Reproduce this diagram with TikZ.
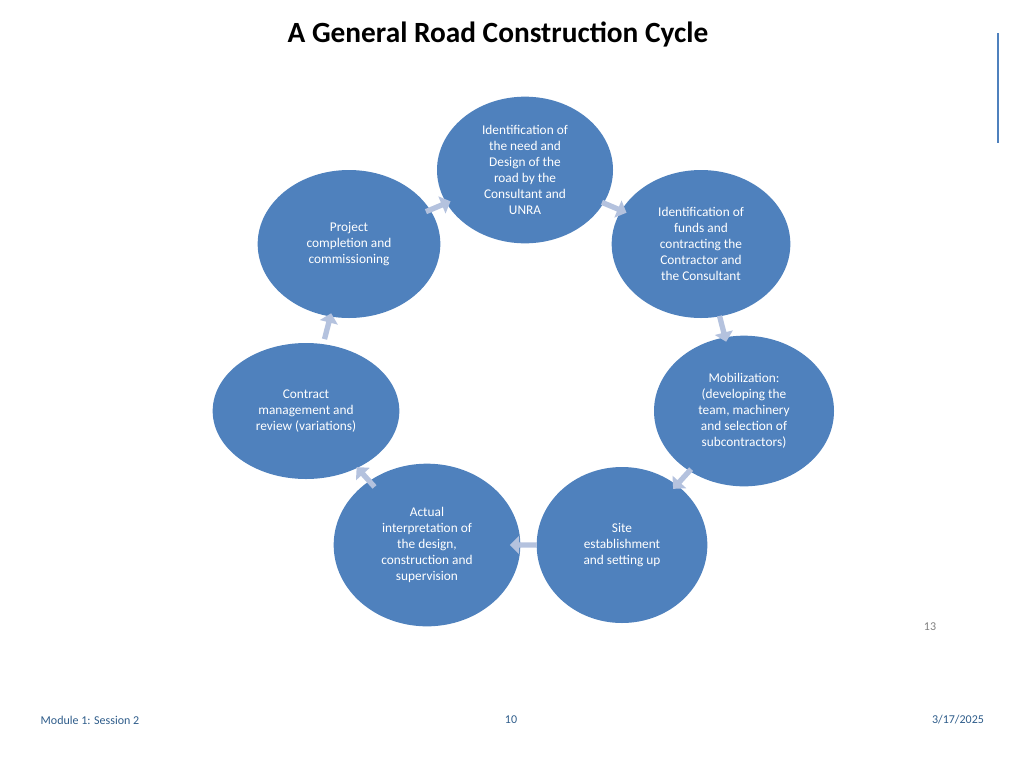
\documentclass[tikz,border=0pt]{standalone}
\usepackage{fontspec}
\setmainfont{Carlito}
\usetikzlibrary{shapes.geometric,shapes.arrows,calc}
\definecolor{cblue}{HTML}{4F81BD}
\definecolor{carrow}{HTML}{B4C2DE}
\definecolor{foot}{HTML}{2E5C8A}
\tikzset{
 circ/.style={ellipse,fill=cblue,text=white,align=center,font=\fontsize{10}{12}\selectfont,inner sep=0pt},
 arr/.style={single arrow,fill=carrow,minimum height=20pt,minimum width=14pt,single arrow head extend=3pt,inner sep=1pt},
 foottext/.style={font=\fontsize{9}{11}\selectfont,text=foot}
}
\begin{document}
\begin{tikzpicture}[x=0.75pt,y=-0.75pt]
\useasboundingbox (0,0) rectangle (1024,768);
\node[font=\fontsize{22}{26}\selectfont\bfseries] (title) at (498,34) {A General Road Construction Cycle};
\draw[cblue,line width=1pt] (998,33) coordinate (v1) -- (998,143) coordinate (v2);
\node[circ,minimum width=132pt,minimum height=110pt] (n1) at (525,170) {Identification of\\the need and\\Design of the\\road by the\\Consultant and\\UNRA};
\node[circ,minimum width=134pt,minimum height=111pt] (n2) at (701,244) {Identification of\\funds and\\contracting the\\Contractor and\\the Consultant};
\node[circ,minimum width=135pt,minimum height=113pt] (n3) at (744,411) {Mobilization:\\(developing the\\team, machinery\\and selection of\\subcontractors)};
\node[circ,minimum width=128pt,minimum height=117pt] (n4) at (622,545) {Site\\establishment\\and setting up};
\node[circ,minimum width=140pt,minimum height=122pt] (n5) at (427,545) {Actual\\interpretation of\\the design,\\construction and\\supervision};
\node[circ,minimum width=140pt,minimum height=102pt] (n6) at (306,411) {Contract\\management and\\review (variations)};
\node[circ,minimum width=137pt,minimum height=111pt] (n7) at (349,244) {Project\\completion and\\commissioning};
\foreach \a/\b in {n1/n2,n2/n3,n3/n4,n4/n5,n5/n6,n6/n7,n7/n1}{
 \path let \p1=($(\b)-(\a)$), \n1={atan2(\y1,\x1)} in
   node[arr,rotate=\n1] at ($(\a)!0.5!(\b)$) {};
}
\node[font=\fontsize{9}{11}\selectfont,text=gray] (pg) at (930,627) {13};
\node[foottext] (f1) at (90,720) {Module 1: Session 2};
\node[foottext] (f2) at (511,720) {10};
\node[foottext] (f3) at (958,720) {3/17/2025};
\end{tikzpicture}
\end{document}
